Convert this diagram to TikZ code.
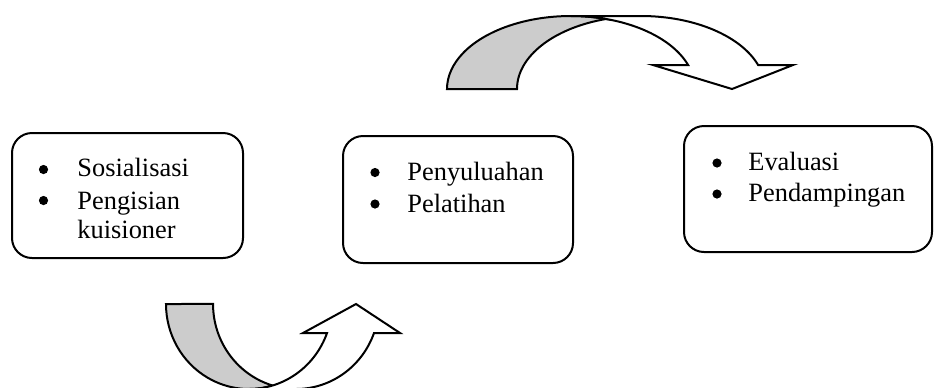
\documentclass[tikz,border=0pt]{standalone}
\usepackage{fontspec}
\setmainfont{Liberation Serif}
\begin{document}
\begin{tikzpicture}[x=0.5pt,y=0.5pt,
  box/.style={draw, line width=1pt, rounded corners=10pt, inner sep=0pt},
  dot/.style={circle, fill, inner sep=0pt, minimum size=4.6pt},
  item/.style={anchor=base west, inner sep=0pt, font=\fontsize{13.2}{15}\selectfont},
  backface/.style={draw, line width=1pt, line join=miter, fill=gray!40},
  frontface/.style={draw, line width=1pt, line join=miter, fill=white}]
\useasboundingbox (0,0) rectangle (935,-387);

% ---- stage boxes ----
\node[box, minimum width=115.5pt, minimum height=62.5pt] (b1) at (127.5,-195.5) {};
\node[box, minimum width=115pt, minimum height=63.5pt] (b2) at (458,-199.5) {};
\node[box, minimum width=124pt, minimum height=63pt] (b3) at (808,-189) {};

% ---- stage 1 items ----
\node[dot] (d11) at (43.5,-169.5) {};
\node[dot] (d12) at (43.5,-200.5) {};
\node[item] (t11) at (77,-176) {Sosialisasi};
\node[item] (t12) at (77,-209) {Pengisian};
\node[item] (t13) at (77,-238) {kuisioner};

% ---- stage 2 items ----
\node[dot] (d21) at (375,-172.5) {};
\node[dot] (d22) at (375,-204) {};
\node[item] (t21) at (407,-180) {Penyuluahan};
\node[item] (t22) at (407,-212) {Pelatihan};

% ---- stage 3 items ----
\node[dot] (d31) at (717,-163) {};
\node[dot] (d32) at (717,-194) {};
\node[item] (t31) at (748,-170) {Evaluasi};
\node[item] (t32) at (748,-201) {Pendampingan};

% ---- curved arrow over the top (stage 2 -> stage 3) ----
% back face of the band
\path[backface] (606,-18.97)
  arc[start angle=106.4, end angle=180, x radius=124, y radius=73]
  -- (447,-89)
  arc[start angle=180, end angle=73.6, x radius=124, y radius=73]
  -- cycle;
% front face with the head
\path[frontface] (571,-16)
  arc[start angle=90, end angle=19.2, x radius=124, y radius=73]
  -- (653,-65) -- (732,-89) -- (793,-65) -- (758.1,-65)
  arc[start angle=19.2, end angle=90, x radius=124, y radius=73]
  -- cycle;

% ---- curved arrow underneath (stage 1 -> stage 2) ----
\path[backface] (272.6,-385.5)
  arc[start angle=-106.4, end angle=-180, x radius=83, y radius=85]
  -- (166,-304)
  arc[start angle=180, end angle=286.4, x radius=83, y radius=85]
  -- cycle;
\path[frontface] (249,-389)
  arc[start angle=270, end angle=340.05, x radius=83, y radius=85]
  -- (303,-333) -- (356,-304) -- (400,-333) -- (374,-333)
  arc[start angle=340.05, end angle=270, x radius=83, y radius=85]
  -- cycle;
\end{tikzpicture}
\end{document}
